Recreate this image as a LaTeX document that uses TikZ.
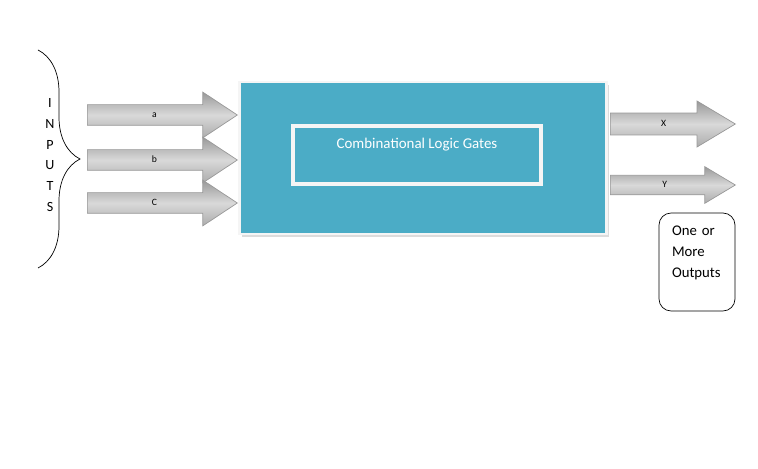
\documentclass[tikz,border=0pt]{standalone}
\usepackage{fontspec}
\setmainfont{Carlito}
\usetikzlibrary{shapes.arrows, shadows, decorations.pathreplacing}
\definecolor{logicblue}{RGB}{75,172,198}

\begin{document}
\begin{tikzpicture}[
  x=0.02cm, y=-0.02cm,
  every node/.style={font=\fontsize{5.5}{6.5}\selectfont, align=center},
  blockarrow/.style={single arrow, draw=gray!80, thin, shading=axis, top color=gray!80, bottom color=gray!65, middle color=gray!30,
    text height=1.5mm, text depth=0.5mm, inner ysep=1mm, inner xsep=0pt, anchor=tail},
  logicbox/.style={rectangle, fill=logicblue, draw=gray!8, line width=1.2pt, minimum width=7.34cm, minimum height=3.04cm,
    drop shadow={shadow xshift=1.5pt, shadow yshift=-1.5pt, fill=gray!55}},
  gatebox/.style={rectangle, fill=logicblue, draw=white!92!gray, line width=1.8pt, minimum width=4.96cm, minimum height=1.16cm},
  outbox/.style={rectangle, draw, thin, rounded corners=0.24cm, minimum width=1.52cm, minimum height=1.96cm,
    text width=1cm, inner xsep=0.26cm, align=left, font=\fontsize{8.4}{11.8}\selectfont}
]
\useasboundingbox (0,0) rectangle (758,469);

% inputs
\draw[decorate, decoration={brace, amplitude=0.84cm}] (38,50) -- (38,268);
\node[font=\fontsize{8}{11.8}\selectfont] (inputs) at (50,155) {I\\N\\P\\U\\T\\S};

\node[blockarrow, minimum height=3cm, minimum width=0.9cm, single arrow tip angle=67, single arrow head extend=0.25cm] (arrA) at (87,115) {a};
\node[blockarrow, minimum height=3cm, minimum width=0.9cm, single arrow tip angle=67, single arrow head extend=0.25cm] (arrB) at (87,160) {b};
\node[blockarrow, minimum height=3cm, minimum width=0.9cm, single arrow tip angle=67, single arrow head extend=0.25cm] (arrC) at (87,203) {C};

% logic block
\node[logicbox] (logic) at (423,158) {};
\node[gatebox, label={[text=white, font=\fontsize{8.5}{10}\selectfont, anchor=north, yshift=-0.16cm]north:Combinational Logic Gates}] (gates) at (417,155) {};

% outputs
\node[blockarrow, minimum height=2.5cm, minimum width=0.92cm, single arrow tip angle=62, single arrow head extend=0.24cm, text height=1.7mm, text depth=0.5mm] (arrX) at (610,124) {X};
\node[blockarrow, minimum height=2.5cm, minimum width=0.72cm, single arrow tip angle=62, single arrow head extend=0.17cm, text height=1.4mm, text depth=0.4mm] (arrY) at (610,185) {Y};

\node[outbox] (outs) at (697,262) {One or\\More\\Outputs\\~};

\end{tikzpicture}
\end{document}
